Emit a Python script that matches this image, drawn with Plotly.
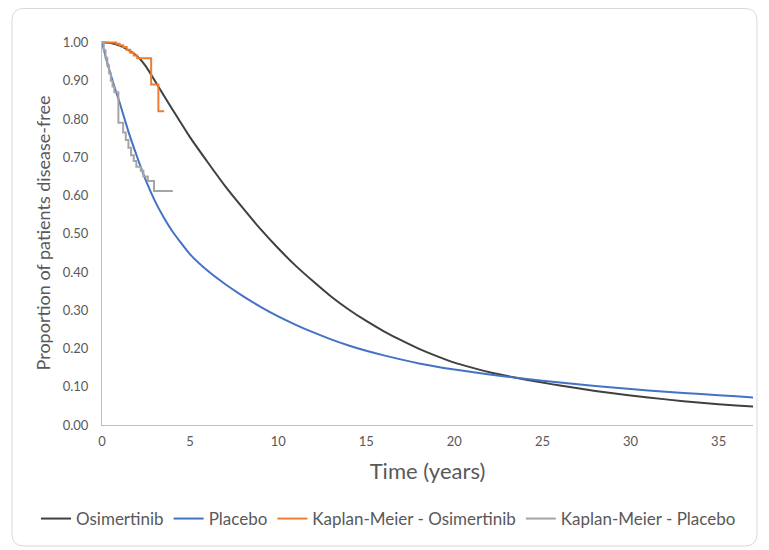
import plotly.graph_objects as go

# ---- data ----
osi_x = [0, 0.5, 1, 1.5, 2, 2.5, 3, 3.5, 4, 5, 6, 7, 8, 9, 10, 11, 12, 13, 14, 15, 16,
         17, 18, 19, 20, 21, 22, 23, 24, 25, 26, 28, 30, 32, 34, 36, 37]
osi_y = [1.000, 0.999, 0.992, 0.980, 0.964, 0.937, 0.900, 0.862, 0.825, 0.752, 0.687,
         0.624, 0.567, 0.512, 0.462, 0.416, 0.375, 0.336, 0.302, 0.272, 0.245,
         0.221, 0.199, 0.180, 0.163, 0.150, 0.138, 0.128, 0.119, 0.111, 0.103,
         0.089, 0.077, 0.067, 0.058, 0.051, 0.048]

pla_x = [0, 0.25, 0.5, 0.75, 1, 1.5, 2, 2.5, 3, 3.5, 4, 5, 6, 7, 8, 9, 10, 11, 12, 13,
         14, 15, 16, 18, 20, 22, 24, 26, 28, 30, 32, 34, 36, 37]
pla_y = [1.000, 0.955, 0.915, 0.878, 0.843, 0.767, 0.700, 0.638, 0.586, 0.543, 0.506,
         0.446, 0.403, 0.368, 0.337, 0.309, 0.284, 0.262, 0.242, 0.224, 0.208, 0.194,
         0.182, 0.161, 0.145, 0.132, 0.121, 0.111, 0.102, 0.094, 0.087, 0.081, 0.075, 0.072]

km_osi_x = [0, 0.8, 1.0, 1.2, 1.4, 1.6, 1.8, 2.0, 2.79, 3.2, 3.53]
km_osi_y = [1.0, 0.997, 0.993, 0.988, 0.981, 0.973, 0.966, 0.959, 0.89, 0.82, 0.82]

km_pla_x = [0, 0.1, 0.2, 0.3, 0.4, 0.5, 0.6, 0.7, 0.93, 1.2, 1.35, 1.5, 1.65, 1.8,
            1.95, 2.2, 2.35, 2.6, 2.95, 4.02]
km_pla_y = [1.0, 0.98, 0.96, 0.94, 0.92, 0.90, 0.885, 0.87, 0.79, 0.765, 0.745, 0.725,
            0.705, 0.69, 0.675, 0.665, 0.65, 0.638, 0.612, 0.612]

y_ticks = [0, 0.1, 0.2, 0.3, 0.4, 0.5, 0.6, 0.7, 0.8, 0.9, 1.0]
x_ticks = [0, 5, 10, 15, 20, 25, 30, 35]

FONT = "Lato"
TXT = "#595959"

fig = go.Figure()
fig.add_trace(go.Scatter(x=osi_x, y=osi_y, mode="lines", name="Osimertinib",
                         line=dict(color="#404040", width=2, shape="spline", smoothing=0.5)))
fig.add_trace(go.Scatter(x=pla_x, y=pla_y, mode="lines", name="Placebo",
                         line=dict(color="#4472C4", width=2, shape="spline", smoothing=0.5)))
fig.add_trace(go.Scatter(x=km_osi_x, y=km_osi_y, mode="lines", name="Kaplan-Meier - Osimertinib",
                         line=dict(color="#ED7D31", width=2, shape="hv")))
fig.add_trace(go.Scatter(x=km_pla_x, y=km_pla_y, mode="lines", name="Kaplan-Meier - Placebo",
                         line=dict(color="#A5A5A5", width=2, shape="hv")))

# plot area in figure pixels (page has an 8px body margin)
W, H = 769, 550
L, R, T, B = 94, 745, 33, 417


def px2paper(px, py):
    return (px - L) / (R - L), (B - py) / (B - T)


def rounded_rect(x0, y0, x1, y1, r):
    def P(px, py):
        a, b = px2paper(px, py)
        return f"{a:.5f},{b:.5f}"
    return (f"M {P(x0 + r, y0)} L {P(x1 - r, y0)} Q {P(x1, y0)} {P(x1, y0 + r)} "
            f"L {P(x1, y1 - r)} Q {P(x1, y1)} {P(x1 - r, y1)} "
            f"L {P(x0 + r, y1)} Q {P(x0, y1)} {P(x0, y1 - r)} "
            f"L {P(x0, y0 + r)} Q {P(x0, y0)} {P(x0 + r, y0)} Z")


fig.add_shape(type="path", xref="paper", yref="paper",
              path=rounded_rect(4, 0.5, 749, 538, 12),
              line=dict(color="#D9D9D9", width=1), layer="below")

lx, _ = px2paper(28, 0)
_, ly = px2paper(0, 511)

fig.update_layout(
    width=W, height=H,
    margin=dict(l=L, r=W - R, t=T, b=H - B, autoexpand=False),
    paper_bgcolor="white", plot_bgcolor="white",
    font=dict(family=FONT, color=TXT, size=13),
    showlegend=True,
    legend=dict(orientation="h", x=lx, xanchor="left", y=ly, yanchor="middle",
                font=dict(size=17, color=TXT), itemwidth=30, tracegroupgap=0,
                bgcolor="rgba(0,0,0,0)"),
    xaxis=dict(range=[0, 36.95], tickvals=x_ticks, showgrid=False, zeroline=False,
               showline=True, linecolor="#BFBFBF", linewidth=1,
               ticks="outside", ticklen=4, tickcolor="rgba(0,0,0,0)",
               tickfont=dict(size=13, color=TXT),
               title=dict(text="Time (years)", font=dict(size=22, color=TXT), standoff=16)),
    yaxis=dict(range=[0, 1.004], tickvals=y_ticks, tickformat=".2f", showgrid=False,
               zeroline=False, showline=True, linecolor="#BFBFBF", linewidth=1,
               ticks="outside", ticklen=10, tickcolor="rgba(0,0,0,0)",
               tickfont=dict(size=13, color=TXT),
               title=dict(text="Proportion of patients disease-free",
                          font=dict(size=18, color=TXT), standoff=7)),
)

fig.write_html("out.html")
